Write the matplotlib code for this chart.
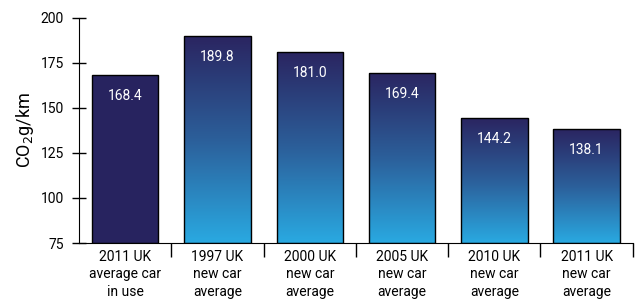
import matplotlib
matplotlib.use("Agg")
import matplotlib.pyplot as plt
import numpy as np
from matplotlib.colors import LinearSegmentedColormap

plt.rcParams['font.family'] = ['Roboto', 'DejaVu Sans']

# data
categories = ["2011 UK\naverage car\nin use", "1997 UK\nnew car\naverage",
              "2000 UK\nnew car\naverage", "2005 UK\nnew car\naverage",
              "2010 UK\nnew car\naverage", "2011 UK\nnew car\naverage"]
co2 = [168.4, 189.8, 181.0, 169.4, 144.2, 138.1]
value_labels = ["168.4", "189.8", "181.0", "169.4", "144.2", "138.1"]
yticks = [75, 100, 125, 150, 175, 200]

fig = plt.figure(figsize=(6.43, 3.03), dpi=100)
ax = fig.add_axes([0.123, 0.198, 0.861, 0.743])

x = np.arange(len(categories))
bars = ax.bar(x, np.array(co2) - 75, bottom=75, width=0.72,
              edgecolor="black", linewidth=1.0, color="#27235f", zorder=2)

# gradient fill for the new car bars
grad = LinearSegmentedColormap.from_list("g", ["#29a9e1", "#2c5f9a", "#2a2561"])
g = np.linspace(0, 1, 256).reshape(-1, 1)
for i, b in enumerate(bars):
    if i == 0:
        continue
    bx, by = b.get_x(), b.get_y()
    bw, bh = b.get_width(), b.get_height()
    b.set_facecolor("none")
    im = ax.imshow(g, cmap=grad, aspect="auto", origin="lower",
                   extent=[bx, bx + bw, by, by + bh], zorder=1.5)
    im.set_clip_path(b)

for i, b in enumerate(bars):
    ax.annotate(value_labels[i], (b.get_x() + b.get_width() / 2, co2[i]),
                xytext=(0, -15), textcoords="offset points",
                ha="center", va="center", color="white", fontsize=10)

ax.set_xlim(-0.5, 5.5)
ax.set_ylim(75, 200)
ax.set_yticks(yticks)
ax.tick_params(axis="y", direction="inout", length=10, width=1, labelsize=10, pad=6)

# boundaries as major ticks, labels at centers
ax.set_xticks(np.arange(0.5, 6, 1))
ax.set_xticklabels([])
ax.tick_params(axis="x", which="major", direction="out", length=10, width=1)
ax.set_xticks(x, minor=True)
ax.set_xticklabels(categories, minor=True, fontsize=10, linespacing=1.3)
ax.tick_params(axis="x", which="minor", length=0, pad=5)

ax.spines["top"].set_visible(False)
ax.spines["right"].set_visible(False)
ax.set_ylabel("CO$_2$g/km", fontsize=13, labelpad=3)

fig.savefig("out.png", dpi=100)
